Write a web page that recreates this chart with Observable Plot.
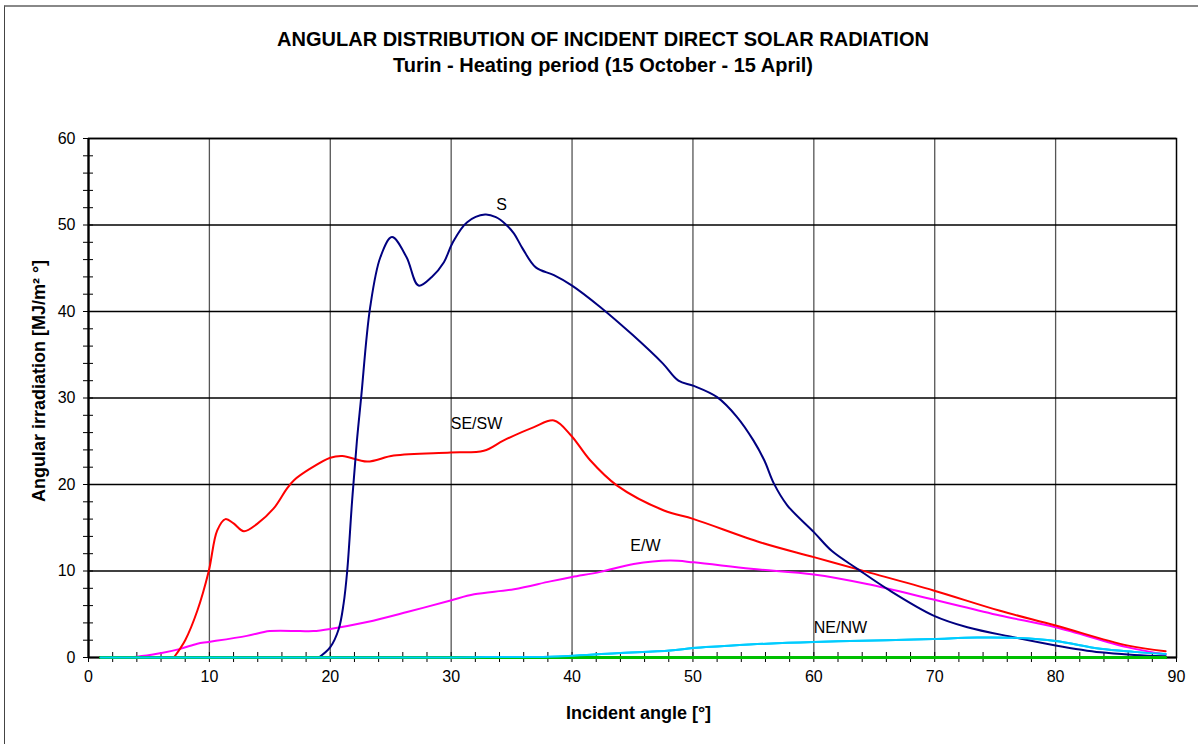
<!DOCTYPE html>
<html><head><meta charset="utf-8">
<script src="https://cdn.jsdelivr.net/npm/d3@7"></script>
<script src="https://cdn.jsdelivr.net/npm/@observablehq/plot@0.6"></script>
<style>
body{margin:0;background:#fff;font-family:Arial,"Liberation Sans",sans-serif;}
#wrap{position:relative;width:1198px;height:744px;overflow:hidden;background:#fff;}
#border{position:absolute;left:4px;top:5px;width:1210px;height:760px;border-top:2px solid #888;border-left:1px solid #444;}
.t{position:absolute;left:4px;width:1198px;text-align:center;font-weight:bold;font-size:20px;line-height:23px;color:#000;white-space:nowrap;}
#chart{position:absolute;left:0;top:0;}
</style></head>
<body><div id="wrap"><div id="border"></div>
<div class="t" id="title" style="top:28px"></div>
<div class="t" id="subtitle" style="top:54px"></div>
<div id="chart"></div></div>
<script>
const titleText = "ANGULAR DISTRIBUTION OF INCIDENT DIRECT SOLAR RADIATION";
const subtitleText = "Turin - Heating period (15 October - 15 April)";
const xLabel = "Incident angle [°]";
const yLabel = "Angular irradiation [MJ/m² °]";

const xMajor = [0,10,20,30,40,50,60,70,80,90];
const yMajor = [0,10,20,30,40,50,60];
const xMinor = d3.range(0, 91, 2);
const yMinor = d3.range(0, 61, 2);

// S
const sX = [19.05,20,20.7,21.1,21.4,21.8,22.2,22.55,23.3,24.15,25.1,26.3,27.3,28.4,29.4,30.1,31.3,32.8,33.7,34.5,35.2,35.9,37,38.5,40,42.35,45,47.5,48.8,50.07,52,53.65,55,55.9,56.7,57.8,60,61.5,63.6,66.1,69.9,72.7,76.5,80,83.7,86.5,89.1];
const sY = [0,1.2,3.3,6.2,10,18,25,30,40.5,46.3,48.6,46.3,43,44,45.7,47.9,50.3,51.2,50.9,50.1,49,47.3,45.1,44.2,43,40.5,37.3,34,32,31.4,30.1,27.8,25.1,22.8,20.1,17.6,14.5,12.3,10.25,7.9,4.85,3.5,2.35,1.4,0.6,0.3,0.15];
// SE/SW
const seX = [7.06,8,9,9.95,10.65,11.33,12,12.85,13.95,15.3,16.4,17,18.3,20,21,23.05,25.25,29.95,32.7,34.35,36.8,38.5,39.9,41.5,43.7,47.6,50.07,55.6,60,64.4,69.9,75.4,80,85.9,89.1];
const seY = [0,2.0,5.4,10,14.7,16,15.5,14.6,15.45,17.2,19.5,20.5,21.8,23.1,23.3,22.65,23.35,23.7,23.9,25.1,26.6,27.4,25.7,22.8,19.9,17,16,13.3,11.6,9.9,7.75,5.4,3.7,1.4,0.73];
// E/W
const ewX = [1,4,5.95,7.6,9,9.95,13.1,15,17.5,18.6,20,23.05,26.35,29.95,31.9,35.2,38.2,40,42.35,45.1,48.1,50.07,54.8,60,64.4,69.9,75.4,80,85.9,89.1];
const ewY = [0,0.1,0.5,1,1.6,1.8,2.5,3.05,3.05,3.05,3.3,4.1,5.25,6.6,7.3,7.9,8.8,9.3,9.9,10.8,11.2,11.0,10.25,9.6,8.5,6.7,4.85,3.5,1.2,0.35];
// NE/NW
const neX = [1,10,20,30,33,38.2,43.7,48.1,50,52.3,56.1,60,63,66,69.9,73.5,77,80,83.7,86.5,89.1];
const neY = [0,0,0,0,0.05,0.1,0.5,0.8,1.1,1.3,1.6,1.8,1.9,2.0,2.15,2.3,2.25,1.9,1.0,0.65,0.4];
// N
const nX = [1,89.1];
const nY = [0,0];

const labelNames = ["S","SE/SW","E/W","NE/NW"];
const labelX = [34.16,32.1,46.07,62.2];
const labelY = [52.37,27.05,12.95,3.47];

const toRows = (xs, ys) => xs.map((x, i) => ({x, y: ys[i]}));
const series = [
  {rows: toRows(nX, nY), color: "#00c000", w: 3},
  {rows: toRows(neX, neY), color: "#00ccff", w: 2},
  {rows: toRows(ewX, ewY), color: "#ff00ff", w: 2},
  {rows: toRows(seX, seY), color: "#ff0000", w: 2},
  {rows: toRows(sX, sY), color: "#000080", w: 2}
];
const labels = labelNames.map((t, i) => ({t, x: labelX[i], y: labelY[i]}));

document.getElementById("title").textContent = titleText;
document.getElementById("subtitle").textContent = subtitleText;

const chart = Plot.plot({
  width: 1198, height: 744,
  marginLeft: 88, marginRight: 22, marginTop: 138, marginBottom: 87,
  style: {fontFamily: "Arial, 'Liberation Sans', sans-serif", background: "transparent", color: "#000"},
  x: {domain: [0, 90]},
  y: {domain: [0, 60]},
  marks: [
    Plot.gridX(xMajor.slice(1, -1), {stroke: "#555", strokeOpacity: 1, strokeWidth: 1.3}),
    Plot.gridY(yMajor.slice(1), {stroke: "#000", strokeOpacity: 1, strokeWidth: 1.3}),
    Plot.frame({stroke: "#000", strokeWidth: 1.5}),
    Plot.tickX(xMinor, {x: d => d, insetTop: 514, insetBottom: -5, stroke: "#000", strokeWidth: 1}),
    Plot.tickY(yMinor, {y: d => d, insetLeft: -5, insetRight: 1083, stroke: "#000", strokeWidth: 1}),
    Plot.axisX(xMajor, {tickSize: 0, tickPadding: 13, fontSize: 16, label: null}),
    Plot.axisY(yMajor, {tickSize: 0, tickPadding: 13, fontSize: 16, label: null}),
    ...series.map(s => Plot.line(s.rows, {x: "x", y: "y", stroke: s.color, strokeWidth: s.w, curve: "catmull-rom"})),
    Plot.ruleX([0], {stroke: "#000", strokeWidth: 2.2}),
    Plot.ruleY([0], {stroke: "#000", strokeWidth: 2.2}),
    Plot.line(series[0].rows, {x: "x", y: "y", stroke: series[0].color, strokeWidth: 3}),
    Plot.line(series[1].rows, {x: "x", y: "y", stroke: series[1].color, strokeWidth: 2, curve: "catmull-rom"}),
    Plot.text(labels, {x: "x", y: "y", text: "t", fontSize: 16, fill: "#000"}),
    Plot.text([yLabel], {text: d => d, frameAnchor: "left", rotate: -90, dx: -49, dy: -17, textAnchor: "middle", lineAnchor: "middle", fontWeight: "bold", fontSize: 18}),
    Plot.text([xLabel], {text: d => d, frameAnchor: "bottom", dx: 6, dy: 56, textAnchor: "middle", lineAnchor: "middle", fontWeight: "bold", fontSize: 18})
  ]
});
document.getElementById("chart").appendChild(chart);
</script>
</body></html>
